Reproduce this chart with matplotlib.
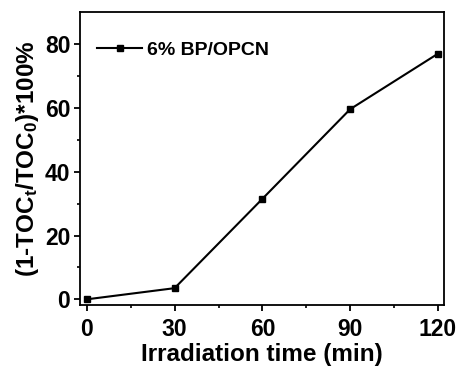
import matplotlib
matplotlib.use("Agg")
from matplotlib import pyplot as plt

# irradiation time (min) vs TOC removal (%)
time_min = [0, 30, 60, 90, 120]
toc_removal = [0.0, 3.5, 31.5, 59.6, 77.0]
series_label = "6% BP/OPCN"

plt.rcParams['font.family'] = ['Liberation Sans', 'DejaVu Sans']
plt.rcParams['font.weight'] = 'bold'
plt.rcParams['mathtext.fontset'] = 'custom'
plt.rcParams['mathtext.rm'] = 'Liberation Sans:bold'
plt.rcParams['mathtext.bf'] = 'Liberation Sans:bold'
plt.rcParams['mathtext.default'] = 'bf'

fig = plt.figure(figsize=(4.6, 3.68), dpi=100)
ax = fig.add_axes([0.174, 0.171, 0.791, 0.796])

ax.plot(time_min, toc_removal, color='black', lw=1.5, marker='s', ms=4.5,
        label=series_label)

ax.set_xlim(-2.3, 122)
ax.set_ylim(-1.8, 90)
ax.set_xticks([0, 30, 60, 90, 120])
ax.set_xticks([15, 45, 75, 105], minor=True)
ax.set_yticks([0, 20, 40, 60, 80])
ax.set_yticks([10, 30, 50, 70], minor=True)
ax.tick_params(axis='both', which='major', labelsize=16.5, width=1.3, length=4,
               direction='out', pad=3)
ax.tick_params(axis='x', which='major', pad=5)
ax.tick_params(axis='both', which='minor', width=1.2, length=2.5, direction='out')
for s in ax.spines.values():
    s.set_linewidth(1.3)

ax.set_xlabel("Irradiation time (min)", fontsize=17.5, fontweight='bold', labelpad=2)
ax.set_ylabel("(1-TOC$_t$/TOC$_0$)*100%", fontsize=17.5, fontweight='bold', labelpad=3)

ax.legend(loc='center left', bbox_to_anchor=(0.047, 0.87), frameon=False,
          fontsize=14, handlelength=2.3, handletextpad=0.26,
          borderaxespad=0, borderpad=0)

fig.savefig("out.png", dpi=100)
